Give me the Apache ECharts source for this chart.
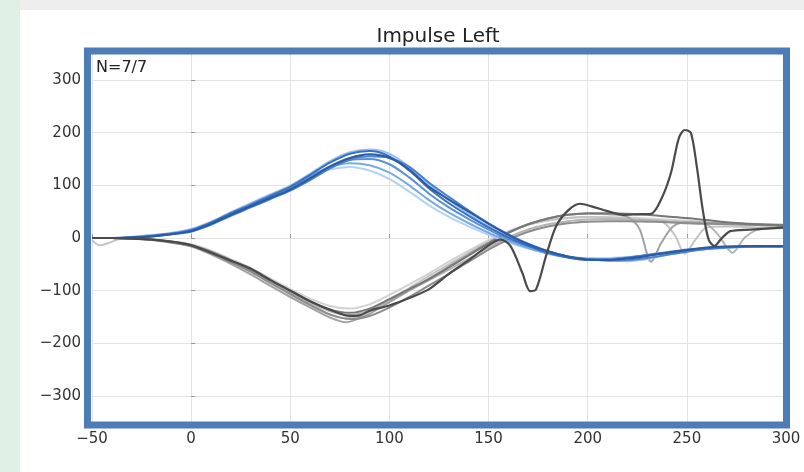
<!DOCTYPE html>
<html>
<head>
<meta charset="utf-8">
<script src="https://cdn.jsdelivr.net/npm/echarts@6/dist/echarts.min.js"></script>
<style>
  html, body { margin: 0; padding: 0; background: #ffffff; }
  #wrap { position: relative; width: 804px; height: 472px; background: #ffffff; overflow: hidden; }
  #sideStrip { position: absolute; left: 0; top: 0; width: 20px; height: 472px; background: #dff0e7; }
  #topStrip { position: absolute; left: 20px; top: 0; width: 784px; height: 10px; background: #eeeeee; }
  #chart { position: absolute; left: 0; top: 0; width: 804px; height: 472px; }
</style>
</head>
<body>
<div id="wrap">
  <div id="sideStrip"></div>
  <div id="topStrip"></div>
  <div id="chart"></div>
</div>
<script>
// Head impulse traces (deg/s) against time (ms)
const chartTitle = 'Impulse Left';
const countLabel = 'N=7/7';
const xTicks = [-50, 0, 50, 100, 150, 200, 250, 300];

// Head velocity, sampled every 10 ms from -50 to 300
const headTimes = [-50, -40, -30, -20, -10, 0, 10, 20, 30, 40, 50, 60, 70, 80, 90, 100, 110, 120,
  130, 140, 150, 160, 170, 180, 190, 200, 210, 220, 230, 240, 250, 260, 270, 280, 290, 300];
const head1 = [0, 0, 1, 3, 7, 13, 27, 44, 60, 76, 92, 113, 136, 152, 159, 152, 130, 97,
  73, 50, 27, 6, -12, -25, -35, -41, -42, -39, -34, -28, -23, -18, -16, -15, -15, -15];
const head2 = [0, 0, 1, 4, 8, 15, 29, 47, 63, 80, 97, 120, 143, 160, 165, 155, 128, 94,
  66, 42, 20, 1, -15, -28, -37, -42, -42, -38, -33, -28, -23, -19, -17, -16, -16, -16];
const head3 = [0, 0, 1, 4, 8, 14, 27, 45, 62, 78, 94, 115, 135, 148, 150, 140, 115, 84,
  58, 36, 16, -2, -16, -28, -36, -40, -40, -37, -32, -27, -22, -19, -17, -16, -16, -16];
const head4 = [0, 0, 2, 5, 9, 16, 30, 48, 65, 82, 98, 118, 135, 142, 138, 124, 100, 72,
  48, 28, 10, -6, -19, -30, -37, -40, -40, -38, -34, -29, -24, -20, -18, -17, -16, -16];
const head5 = [0, 0, 1, 4, 8, 15, 29, 47, 64, 81, 99, 122, 146, 163, 168, 160, 135, 102,
  72, 46, 22, 2, -14, -27, -36, -41, -42, -44, -40, -32, -25, -21, -18, -17, -16, -16];
const head6 = [0, 0, 2, 5, 10, 17, 31, 49, 66, 83, 99, 116, 130, 135, 128, 112, 88, 62,
  40, 22, 6, -8, -20, -29, -35, -38, -38, -36, -33, -28, -24, -21, -19, -17, -17, -17];
const head7 = [0, 0, 1, 3, 7, 12, 25, 42, 58, 74, 90, 110, 132, 149, 155, 152, 135, 105,
  78, 52, 28, 7, -11, -25, -35, -40, -43, -42, -38, -32, -26, -21, -18, -16, -15, -15];

// Eye velocity (inverted), [time, value]
const eye1 = [[-50, 0], [-40, 0], [-30, -1], [-20, -3], [-10, -7], [0, -14], [10, -28], [20, -43],
  [30, -58], [40, -80], [50, -100], [60, -120], [70, -136], [80, -148], [85, -147], [90, -138],
  [100, -128], [110, -114], [120, -97], [130, -68], [140, -42], [150, -14], [156, -3], [161, -15],
  [167, -66], [171, -101], [174, -97], [179, -34], [184, 22], [190, 52], [196, 65], [202, 60],
  [210, 51], [218, 44], [225, 45], [232, 46], [237, 73], [242, 124], [246, 190], [249, 205],
  [252, 200], [255, 136], [258, 54], [261, -3], [264, -15], [267, -3], [272, 13], [282, 16], [300, 20]];
const eye2 = [[-50, 0], [-40, 0], [-30, -1], [-20, -3], [-10, -7], [0, -13], [10, -26], [20, -42],
  [30, -60], [40, -80], [50, -100], [60, -120], [70, -136], [80, -142], [90, -134], [100, -116],
  [110, -97], [120, -78], [130, -56], [140, -33], [150, -10], [160, 10], [170, 26], [180, 37],
  [190, 44], [200, 47], [210, 47], [220, 46], [230, 44], [240, 41], [250, 38], [260, 34],
  [270, 30], [280, 27], [290, 25], [300, 24]];
const eye3 = [[-50, 0], [-40, 0], [-30, -1], [-20, -3], [-10, -8], [0, -15], [10, -29], [20, -46],
  [30, -64], [40, -85], [50, -106], [60, -127], [70, -145], [80, -154], [90, -148], [100, -132],
  [110, -112], [120, -90], [130, -68], [140, -45], [150, -22], [160, -3], [170, 12], [180, 22],
  [190, 28], [200, 31], [210, 32], [220, 32], [230, 31], [240, 30], [250, 28], [260, 27],
  [270, 26], [280, 25], [290, 24], [300, 23]];
const eye4 = [[-50, 0], [-40, 0], [-30, -1], [-20, -4], [-10, -9], [0, -16], [10, -31], [20, -49],
  [30, -69], [40, -91], [50, -112], [60, -132], [70, -151], [78, -160], [85, -152], [90, -144],
  [100, -122], [110, -99], [120, -77], [130, -54], [140, -31], [150, -9], [160, 10], [170, 26],
  [180, 37], [190, 44], [200, 46], [210, 45], [220, 40], [226, 18], [232, -45], [237, -10],
  [243, 22], [250, 30], [260, 29], [270, 28], [280, 27], [290, 26], [300, 25]];
const eye5 = [[-50, 0], [-40, 0], [-30, -1], [-20, -3], [-10, -7], [0, -13], [10, -26], [20, -43],
  [30, -61], [40, -82], [50, -103], [60, -123], [70, -139], [80, -146], [90, -138], [100, -120],
  [110, -100], [120, -80], [130, -60], [140, -39], [150, -18], [160, 1], [170, 16], [180, 26],
  [190, 32], [200, 35], [210, 36], [220, 35], [230, 34], [240, 32], [250, 30], [260, 26],
  [266, 5], [273, -28], [279, 0], [285, 15], [292, 18], [300, 19]];
const eye6 = [[-50, -4], [-46, -14], [-42, -10], [-36, -2], [-30, -1], [-20, -3], [-10, -7], [0, -14],
  [10, -28], [20, -45], [30, -64], [40, -86], [50, -107], [60, -128], [70, -146], [78, -152],
  [85, -148], [90, -140], [100, -118], [110, -95], [120, -72], [130, -50], [140, -28], [150, -7],
  [160, 11], [170, 25], [180, 33], [190, 38], [200, 40], [210, 39], [220, 37], [230, 34],
  [238, 30], [244, 5], [249, -30], [254, -5], [260, 20], [270, 22], [280, 21], [290, 20], [300, 20]];
const eye7 = [[-50, 0], [-40, 0], [-30, -1], [-20, -3], [-10, -6], [0, -12], [10, -24], [20, -40],
  [30, -57], [40, -77], [50, -97], [60, -115], [70, -129], [80, -134], [90, -126], [100, -108],
  [110, -88], [120, -67], [130, -45], [140, -24], [150, -4], [160, 13], [170, 25], [180, 33],
  [190, 38], [200, 40], [210, 40], [220, 39], [230, 37], [240, 35], [250, 33], [260, 30],
  [270, 28], [280, 26], [290, 25], [300, 24]];

const headSeries = [head1, head2, head3, head4, head5, head6, head7];
const headColors = ['#2b5aa1', '#3a70c2', '#5a90d6', '#78abe5', '#98c2ee', '#b4d3f3', '#4a80cc'];
const eyeSeries = [eye7, eye6, eye5, eye4, eye3, eye2];
const eyeColors = ['#d2d2d2', '#c4c4c4', '#b4b4b4', '#a2a2a2', '#8c8c8c', '#777777'];

const FONT = 'DejaVu Sans';
const chart = echarts.init(document.getElementById('chart'), null, { renderer: 'canvas' });

const series = [];
eyeSeries.forEach((d, i) => {
  series.push({ type: 'line', data: d, showSymbol: false, smooth: 0.3,
    lineStyle: { color: eyeColors[i], width: 2 }, z: 2 });
});
// lighter head traces first, darkest on top
[5, 4, 3, 2, 6, 1, 0].forEach(i => {
  series.push({ type: 'line', data: headTimes.map((t, k) => [t, headSeries[i][k]]),
    showSymbol: false, smooth: 0.3,
    lineStyle: { color: headColors[i], width: 2 }, z: 3 });
});
series.push({ type: 'line', data: eye1, showSymbol: false, smooth: 0.3,
  lineStyle: { color: '#4a4a4a', width: 2.2 }, z: 4 });

const minusFmt = v => (v < 0 ? '\u2212' + Math.abs(v) : String(v));

chart.setOption({
  animation: false,
  backgroundColor: 'transparent',
  grid: { left: 92, right: 18, top: 51, bottom: 47, containLabel: false },
  xAxis: {
    type: 'value', min: -50, max: 300, interval: 50,
    axisLine: { show: false },
    axisTick: { show: true, inside: true, length: 4, lineStyle: { color: '#999' } },
    axisLabel: { color: '#333333', fontFamily: FONT, fontSize: 15, margin: 7,
      formatter: minusFmt },
    splitLine: { show: true, lineStyle: { color: '#e3e3e3', width: 1 } }
  },
  yAxis: {
    type: 'value', min: -355, max: 355, splitNumber: 7,
    axisLine: { show: false },
    axisTick: { show: true, inside: true, length: 4, lineStyle: { color: '#999' } },
    axisLabel: { color: '#333333', fontFamily: FONT, fontSize: 15, margin: 11,
      padding: [4, 0, 0, 0],
      showMinLabel: false, showMaxLabel: false,
      formatter: v => (Math.abs(v) % 100 !== 0 ? '' : minusFmt(v)) },
    splitLine: { show: true, lineStyle: { color: '#e3e3e3', width: 1 } }
  },
  graphic: [
    { type: 'rect', z: 100, silent: true,
      shape: { x: 87.5, y: 51, width: 699, height: 374 },
      style: { fill: null, stroke: '#4d7db6', lineWidth: 7 } },
    { type: 'text', z: 101, x: 438, y: 37,
      style: { text: chartTitle, font: '20px "DejaVu Sans"', fill: '#222222',
        textAlign: 'center', textVerticalAlign: 'middle' } },
    { type: 'text', z: 101, x: 96, y: 68,
      style: { text: countLabel, font: '16px "DejaVu Sans"', fill: '#222222',
        textAlign: 'left', textVerticalAlign: 'middle' } }
  ],
  series: series
});
</script>
</body>
</html>
